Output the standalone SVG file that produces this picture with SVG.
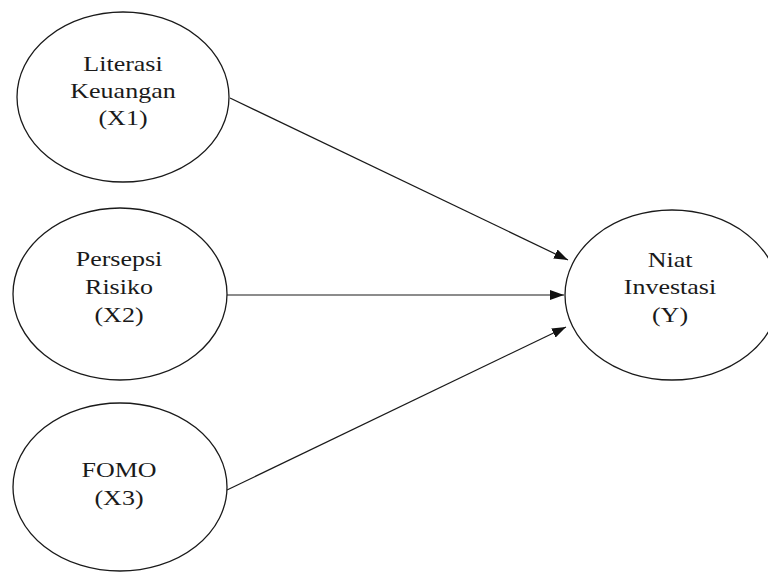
<svg xmlns="http://www.w3.org/2000/svg" width="768" height="572" viewBox="0 0 768 572">
<style>
.n{fill:#fff;stroke:#1a1a1a;stroke-width:1.3}
.t{font-family:"Liberation Serif","Times New Roman",serif;font-size:20px;fill:#1a1a1a;text-anchor:middle}
.c{stroke:#1a1a1a;stroke-width:1.2;fill:none}
</style>
<defs>
<marker id="ah" viewBox="0 0 14 10" refX="14" refY="5" markerWidth="14" markerHeight="10" markerUnits="userSpaceOnUse" orient="auto">
<path d="M0,0 L14,5 L0,10 Z" fill="#111"/>
</marker>
</defs>
<rect width="768" height="572" fill="#fff"/>
<g id="connectors">
<line class="c" x1="230" y1="98" x2="568" y2="260" marker-end="url(#ah)"/>
<line class="c" x1="227" y1="295" x2="564" y2="295" marker-end="url(#ah)"/>
<line class="c" x1="227" y1="490" x2="566" y2="327" marker-end="url(#ah)"/>
</g>
<g id="x1">
<ellipse class="n" cx="123" cy="97" rx="106" ry="85"/>
<text class="t" transform="translate(123,71) scale(1.3,1)">Literasi</text>
<text class="t" transform="translate(123,98) scale(1.3,1)">Keuangan</text>
<text class="t" transform="translate(123,125) scale(1.3,1)">(X1)</text>
</g>
<g id="x2">
<ellipse class="n" cx="120" cy="294" rx="107" ry="86"/>
<text class="t" transform="translate(119,266) scale(1.3,1)">Persepsi</text>
<text class="t" transform="translate(119,294) scale(1.3,1)">Risiko</text>
<text class="t" transform="translate(119,322) scale(1.3,1)">(X2)</text>
</g>
<g id="x3">
<ellipse class="n" cx="120" cy="487" rx="107" ry="84"/>
<text class="t" transform="translate(119,477) scale(1.3,1)">FOMO</text>
<text class="t" transform="translate(119,505) scale(1.3,1)">(X3)</text>
</g>
<g id="y">
<ellipse class="n" cx="672" cy="295" rx="107" ry="85"/>
<text class="t" transform="translate(670,267) scale(1.3,1)">Niat</text>
<text class="t" transform="translate(670,294) scale(1.3,1)">Investasi</text>
<text class="t" transform="translate(670,322) scale(1.3,1)">(Y)</text>
</g>
</svg>
